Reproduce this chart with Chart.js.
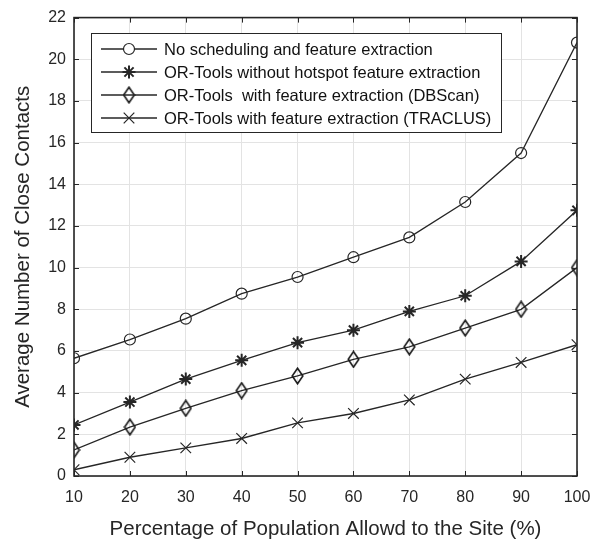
<!DOCTYPE html>
<html lang="en">
<head>
  <meta charset="UTF-8">
  <title>Close contacts</title>
  <style>
    body { margin: 0; background: #fff; }
    .wrap { position: relative; width: 591px; height: 546px; }
  </style>
</head>
<body>
<script src="https://cdn.jsdelivr.net/npm/chart.js"></script>

<div class="wrap">
  <canvas id="lineChart"></canvas>
</div>

<script>
  // values
  const population = [10, 20, 30, 40, 50, 60, 70, 80, 90, 100];
  const noScheduling = [5.65, 6.55, 7.55, 8.75, 9.55, 10.5, 11.45, 13.15, 15.5, 20.8];
  const orToolsNoHotspot = [2.45, 3.55, 4.65, 5.55, 6.4, 7.0, 7.9, 8.65, 10.3, 12.75];
  const orToolsDBScan = [1.25, 2.35, 3.25, 4.1, 4.8, 5.6, 6.2, 7.1, 8.0, 10.0];
  const orToolsTraclus = [0.3, 0.9, 1.35, 1.8, 2.55, 3.0, 3.65, 4.65, 5.45, 6.3];

  const seriesNames = [
    'No scheduling and feature extraction',
    'OR-Tools without hotspot feature extraction',
    'OR-Tools  with feature extraction (DBScan)',
    'OR-Tools with feature extraction (TRACLUS)'
  ];

  const ink = '#262626';
  const font = 'Arial, "Liberation Sans", Helvetica, sans-serif';

  // matlab's diamond is taller than wide, so draw it on a small canvas
  function makeDiamond() {
    const c = document.createElement('canvas');
    c.width = 13; c.height = 18;
    const g = c.getContext('2d');
    g.strokeStyle = '#1a1a1a';
    g.lineWidth = 1.6;
    g.beginPath();
    g.moveTo(6.5, 1.2); g.lineTo(11.8, 9); g.lineTo(6.5, 16.8); g.lineTo(1.2, 9);
    g.closePath();
    g.stroke();
    return c;
  }

  const markers = ['circle', 'star', makeDiamond(), 'crossRot'];
  const markerSizes = [5.5, 6.5, 7, 7.5];
  const markerWidths = [1.2, 2, 1.2, 1.2];

  function toPoints(ys) {
    return population.map((x, i) => ({ x: x, y: ys[i] }));
  }

  const allSeries = [noScheduling, orToolsNoHotspot, orToolsDBScan, orToolsTraclus];
  const datasets = allSeries.map((ys, i) => ({
    label: seriesNames[i],
    data: toPoints(ys),
    borderColor: ink,
    borderWidth: 1.3,
    backgroundColor: 'rgba(0,0,0,0)',
    pointStyle: markers[i],
    pointRadius: markerSizes[i],
    pointBorderColor: ink,
    pointBorderWidth: markerWidths[i],
    pointBackgroundColor: 'rgba(0,0,0,0)',
    tension: 0
  }));

  // matlab style inward ticks, axes box and the legend
  const matlabBits = {
    id: 'matlabBits',
    afterDraw(chart) {
      const ctx = chart.ctx;
      const a = chart.chartArea;
      const xs = chart.scales.x, ys = chart.scales.y;
      ctx.save();
      ctx.strokeStyle = ink;
      ctx.lineWidth = 1;
      xs.ticks.forEach(t => {
        const px = Math.round(xs.getPixelForValue(t.value)) + 0.5;
        ctx.beginPath();
        ctx.moveTo(px, a.bottom); ctx.lineTo(px, a.bottom - 5);
        ctx.moveTo(px, a.top); ctx.lineTo(px, a.top + 5);
        ctx.stroke();
      });
      ys.ticks.forEach(t => {
        const py = Math.round(ys.getPixelForValue(t.value)) + 0.5;
        ctx.beginPath();
        ctx.moveTo(a.left, py); ctx.lineTo(a.left + 5, py);
        ctx.moveTo(a.right, py); ctx.lineTo(a.right - 5, py);
        ctx.stroke();
      });
      ctx.lineWidth = 1.6;
      ctx.strokeRect(a.left, a.top, a.right - a.left, a.bottom - a.top);

      // legend
      const lx = 91, ly = 33, lw = 410, lh = 99;
      ctx.fillStyle = '#fff';
      ctx.fillRect(lx, ly, lw, lh);
      ctx.lineWidth = 1;
      ctx.strokeStyle = ink;
      ctx.strokeRect(lx + 0.5, ly + 0.5, lw, lh);
      ctx.font = '16.5px ' + font;
      ctx.textBaseline = 'middle';
      ctx.textAlign = 'left';
      chart.data.datasets.forEach((ds, i) => {
        const cy = 49 + i * 23;
        ctx.strokeStyle = ink;
        ctx.lineWidth = 1.5;
        ctx.beginPath();
        ctx.moveTo(101, cy); ctx.lineTo(157, cy);
        ctx.stroke();
        ctx.fillStyle = '#fff';
        ctx.lineWidth = ds.pointBorderWidth;
        Chart.helpers.drawPoint(ctx, {
          pointStyle: ds.pointStyle,
          radius: ds.pointRadius,
          borderWidth: ds.pointBorderWidth
        }, 129, cy);
        ctx.fillStyle = '#111';
        ctx.fillText(ds.label, 164, cy + 1);
      });
      ctx.restore();
    }
  };

  const config = {
    type: 'line',
    data: { datasets: datasets },
    options: {
      responsive: true,
      maintainAspectRatio: false,
      animation: false,
      layout: { padding: { top: 15, right: 0, left: 0, bottom: 0 } },
      plugins: {
        legend: { display: false },
        tooltip: { enabled: false }
      },
      scales: {
        x: {
          type: 'linear',
          min: 10, max: 100,
          ticks: { stepSize: 10, color: '#262626', font: { size: 16, family: font }, padding: 12 },
          grid: { color: '#e3e3e3', drawTicks: false },
          border: { display: false },
          title: {
            display: true,
            text: 'Percentage of Population Allowd to the Site (%)',
            color: '#262626',
            font: { size: 20.5, family: font },
            padding: { top: 8, bottom: 4 }
          },
          afterFit(scale) {
            scale.height = 70;
            scale.paddingRight = 14;
          }
        },
        y: {
          min: 0, max: 22,
          ticks: { stepSize: 2, color: '#262626', font: { size: 16, family: font }, padding: 8 },
          grid: { color: '#e3e3e3', drawTicks: false },
          border: { display: false },
          title: {
            display: true,
            text: 'Average Number of Close Contacts',
            color: '#262626',
            font: { size: 20.5, family: font },
            padding: { top: 11, bottom: 4 }
          },
          afterFit(scale) { scale.width = 74; }
        }
      }
    },
    plugins: [matlabBits]
  };

  const lineChart = new Chart(document.getElementById('lineChart'), config);
</script>
</body>
</html>
